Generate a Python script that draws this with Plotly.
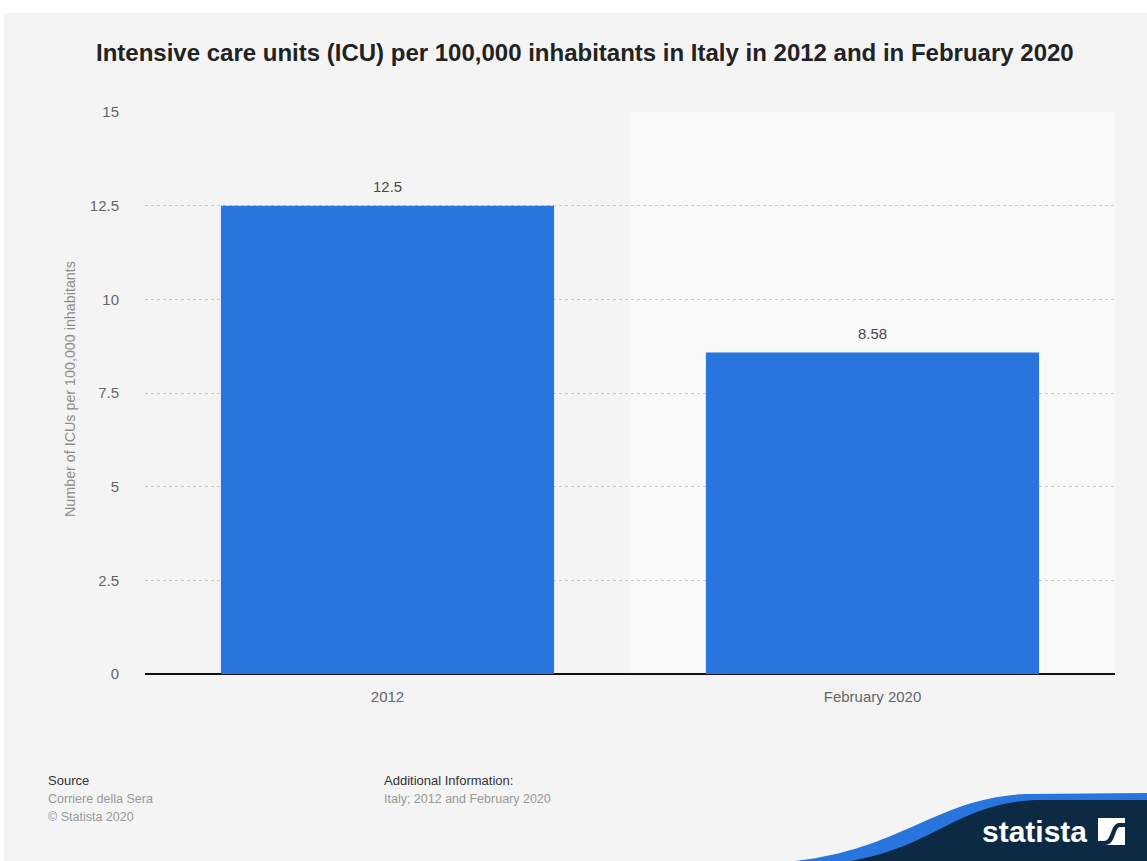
import plotly.graph_objects as go

# Data
categories = ["2012", "February 2020"]
icu_per_100k = [12.5, 8.58]
label_text = ["12.5", "8.58"]
y_ticks = [0, 2.5, 5, 7.5, 10, 12.5, 15]
y_tick_labels = ["0", "2.5", "5", "7.5", "10", "12.5", "15"]

W, H = 1147, 861
L, R, T, B = 145, 1115, 112, 674  # plot area in pixels

BAR = "#2876dd"
NAVY = "#0d2a44"
FONT = "Liberation Sans, Arial, sans-serif"


def px(x):
    return (x - L) / (R - L)


def py(y):
    return (B - y) / (B - T)


fig = go.Figure(
    go.Bar(
        x=categories,
        y=icu_per_100k,
        marker=dict(color=BAR, line=dict(width=0)),
        width=0.687,
        hoverinfo="x+y",
    )
)

shapes = [
    # page background panel
    dict(type="rect", xref="paper", yref="paper", x0=px(4), x1=px(W + 5), y0=py(H + 5), y1=py(13),
         fillcolor="#f4f4f4", line=dict(width=0), layer="below"),
    # lighter band behind the second category
    dict(type="rect", xref="x", yref="y", x0=0.5, x1=1.5, y0=0, y1=15,
         fillcolor="#f9f9f9", line=dict(width=0), layer="below"),
    # logo swoosh
    dict(type="path", xref="paper", yref="paper",
         path=f"M {px(785)} {py(862)} C {px(900)} {py(852)}, {px(935)} {py(798)}, {px(1025)} {py(794)} "
              f"L {px(1148)} {py(793)} L {px(1148)} {py(862)} Z",
         fillcolor=BAR, line=dict(width=0), layer="above"),
    dict(type="path", xref="paper", yref="paper",
         path=f"M {px(845)} {py(862)} C {px(935)} {py(848)}, {px(955)} {py(804)}, {px(1035)} {py(800)} "
              f"L {px(1148)} {py(800)} L {px(1148)} {py(862)} Z",
         fillcolor=NAVY, line=dict(width=0), layer="above"),
    # logo icon
    dict(type="rect", xref="paper", yref="paper", x0=px(1098), x1=px(1125), y0=py(845), y1=py(818),
         fillcolor="white", line=dict(width=0), layer="above"),
    dict(type="path", xref="paper", yref="paper",
         path=f"M {px(1098)} {py(841)} L {px(1104)} {py(841)} C {px(1112)} {py(841)}, {px(1110)} {py(824)}, "
              f"{px(1119)} {py(823)} L {px(1125)} {py(823)} L {px(1125)} {py(827)} L {px(1120)} {py(827)} "
              f"C {px(1114)} {py(828)}, {px(1116)} {py(845)}, {px(1105)} {py(845)} L {px(1098)} {py(845)} Z",
         fillcolor=NAVY, line=dict(width=0), layer="above"),
]

annotations = [
    dict(text="<b>Intensive care units (ICU) per 100,000 inhabitants in Italy in 2012 and in February 2020</b>",
         xref="paper", yref="paper", x=px(585), y=py(53), xanchor="center", yanchor="middle",
         showarrow=False, font=dict(family=FONT, size=24, color="#222222")),
    dict(text="Number of ICUs per 100,000 inhabitants", textangle=-90,
         xref="paper", yref="paper", x=px(70), y=py(389), xanchor="center", yanchor="middle",
         showarrow=False, font=dict(family=FONT, size=14.3, color="#8c8c8c")),
    dict(text="Source", xref="paper", yref="paper", x=px(46), y=py(780), xanchor="left", yanchor="middle",
         showarrow=False, font=dict(family=FONT, size=13, color="#333333")),
    dict(text="Corriere della Sera", xref="paper", yref="paper", x=px(46), y=py(799), xanchor="left",
         yanchor="middle", showarrow=False, font=dict(family=FONT, size=12.5, color="#999999")),
    dict(text="© Statista 2020", xref="paper", yref="paper", x=px(46), y=py(817), xanchor="left",
         yanchor="middle", showarrow=False, font=dict(family=FONT, size=12.5, color="#999999")),
    dict(text="Additional Information:", xref="paper", yref="paper", x=px(382), y=py(780), xanchor="left",
         yanchor="middle", showarrow=False, font=dict(family=FONT, size=13, color="#333333")),
    dict(text="Italy; 2012 and February 2020", xref="paper", yref="paper", x=px(382), y=py(799),
         xanchor="left", yanchor="middle", showarrow=False, font=dict(family=FONT, size=12.5, color="#999999")),
    dict(text="<b>statista</b>", xref="paper", yref="paper", x=px(1089), y=py(832), xanchor="right",
         yanchor="middle", showarrow=False, font=dict(family=FONT, size=30, color="white")),
]

# value labels above the bars (positioned by category index)
for i, (val, txt) in enumerate(zip(icu_per_100k, label_text)):
    annotations.append(dict(text=txt, x=i, y=val, xref="x", yref="y", yanchor="bottom",
                            yshift=9, showarrow=False,
                            font=dict(family=FONT, size=15, color="#4a4a4a")))

fig.update_layout(
    width=W, height=H,
    margin=dict(l=L, r=W - R, t=T, b=H - B, pad=0),
    paper_bgcolor="white",
    plot_bgcolor="rgba(0,0,0,0)",
    showlegend=False,
    bargap=0.313,
    shapes=shapes,
    annotations=annotations,
    xaxis=dict(
        type="category", range=[-0.5, 1.5], showgrid=False, zeroline=False, showline=False,
        ticks="outside", ticklen=9, tickcolor="rgba(0,0,0,0)",
        tickfont=dict(family=FONT, size=15, color="#666666"),
    ),
    yaxis=dict(
        range=[0, 15], tickvals=y_ticks, ticktext=y_tick_labels,
        showgrid=True, gridcolor="#c8c8c8", griddash="dot", gridwidth=1,
        zeroline=True, zerolinecolor="#111111", zerolinewidth=1.5, showline=False,
        ticks="outside", ticklen=22, tickcolor="rgba(0,0,0,0)",
        tickfont=dict(family=FONT, size=15, color="#666666"),
    ),
)

fig.write_html("out.html")
